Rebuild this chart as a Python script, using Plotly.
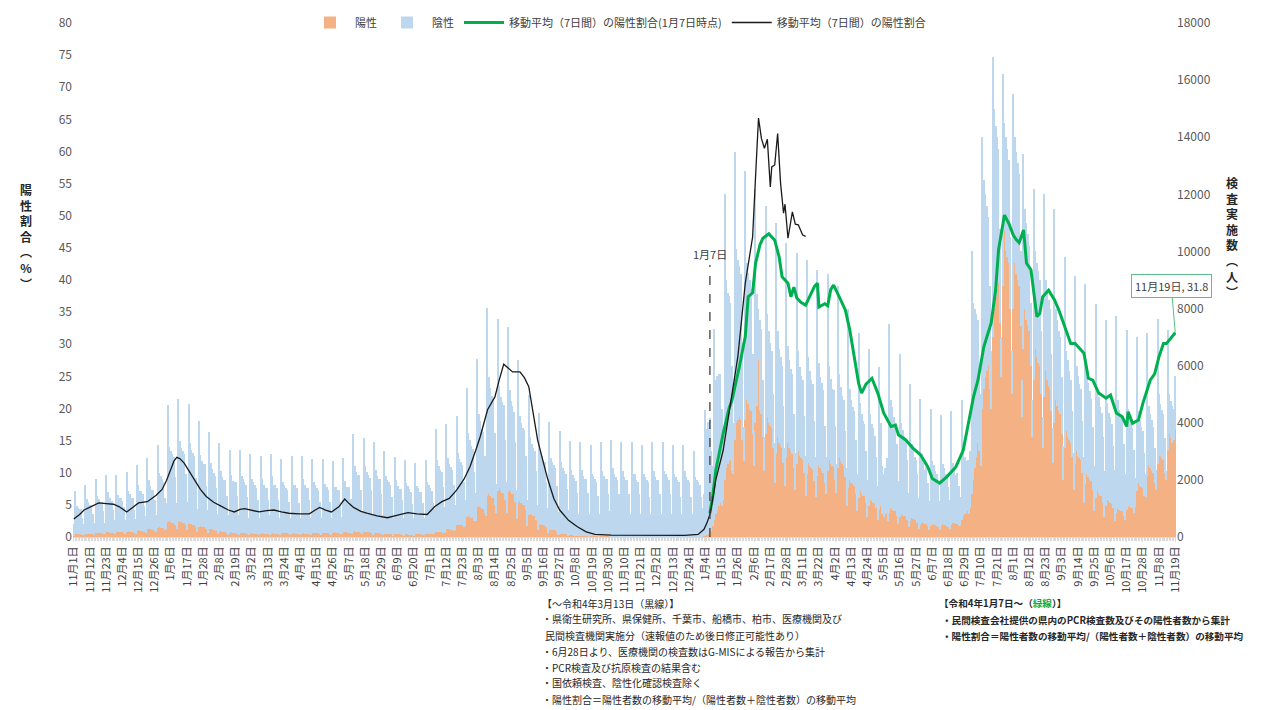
import plotly.graph_objects as go
import pandas as pd

# ---------------- data ----------------
# Daily values, one row per week (Sun..Sat), starting 2020-11-01.
# 陰性 (negative) in hundreds of people
negative_hundreds = [
    4,15,10,9,9,9,6,  4,17,12,11,10,10,7,  4,19,13,12,11,11,8,  4,20,14,12,12,11,8,
    5,20,13,12,12,11,9,  5,21,14,13,12,12,8,  5,23,16,14,14,13,9,  6,25,17,15,14,14,11,
    6,29,19,18,17,16,11,  9,41,26,25,24,23,17,  9,43,28,26,25,24,18,  10,42,28,26,25,24,17,
    8,37,25,23,22,22,15,  8,34,23,21,20,19,15,  7,31,21,19,18,18,13,  7,29,20,18,18,18,13,
    7,29,20,19,18,17,13,  6,28,19,18,17,16,12,  6,27,19,17,16,16,12,  7,28,20,17,17,16,12,
    6,26,18,17,16,15,11,  6,27,17,17,15,16,11,  6,27,19,17,16,16,12,  6,26,18,17,16,15,11,
    6,26,17,17,16,15,11,  6,25,16,16,15,15,11,  6,26,18,16,16,16,12,  8,34,23,21,20,20,15,
    8,33,23,21,20,19,15,  7,32,22,20,19,19,14,  7,29,20,19,18,17,13,  6,27,19,17,16,16,12,
    6,26,18,17,16,15,11,  6,25,17,16,15,15,11,  6,26,18,17,16,15,11,  9,36,25,23,22,21,16,
    9,37,25,23,22,21,16,  9,38,25,23,22,21,16,  9,45,29,27,25,24,17,  10,52,32,30,28,27,20,
    12,66,41,38,36,34,25,  10,60,36,33,32,31,21,  11,58,35,32,31,29,21,  10,50,30,28,27,26,19,
    9,42,27,25,24,23,17,  9,39,26,24,23,22,16,  9,38,25,24,23,22,16,  8,36,25,23,22,21,16,
    9,33,23,21,20,19,15,  8,33,23,21,20,20,15,  8,32,22,21,20,19,14,  8,33,23,21,20,20,15,
    9,34,24,22,21,20,15,  8,33,23,21,20,20,15,  8,33,22,22,20,19,15,  8,32,22,21,20,19,14,
    8,33,23,21,20,20,15,  8,33,23,22,21,20,15,  8,32,22,21,20,19,14,  8,32,23,21,20,19,14,
    8,30,21,20,19,18,14,  10,15,44,37,39,40,28,  21,67,47,47,46,45,34,  23,100,66,60,58,55,37,
    18,101,61,56,53,51,34,  12,87,48,46,45,43,28,  12,82,39,18,32,30,20,  12,80,36,32,29,27,19,
    14,81,37,33,31,29,20,  13,75,34,31,29,28,19,  13,74,35,31,29,28,20,  14,75,37,33,31,30,21,
    14,72,36,32,31,29,20,  13,69,33,30,27,27,19,  10,64,29,26,24,23,16,  13,63,32,29,27,26,19,
    13,58,31,28,26,25,18,  13,55,30,27,26,24,18,  12,50,29,17,15,16,19,  17,66,38,36,33,31,25,
    15,57,32,30,28,27,21,  12,48,26,24,22,21,17,  11,44,24,21,19,20,15,  10,41,22,21,19,18,15,
    10,39,21,20,18,18,14,  10,40,21,19,17,18,14,  10,42,22,20,18,18,14,  20,85,62,56,50,43,28,
    25,95,73,64,58,52,36,  20,98,70,60,53,47,33,  14,74,38,40,38,36,25,  15,75,44,43,41,39,26,
    13,68,35,34,32,30,22,  13,67,34,33,32,30,22,  11,71,32,31,30,28,20,  12,75,32,30,28,27,20,
    12,67,28,27,24,22,16,  13,66,30,28,26,25,18,  16,70,35,33,31,29,22,  16,68,36,34,31,29,23,
    16,65,34,31,30,28,22,  18,69,38,35,34,32,25,  16,63,34,31,30,28,22,  10,54,25,23,21,20,15,
    8,50,21,19,18,16,12,  7,51,20,18,17,16,12,  3,42,14,13,13,11,19,
]
# 陽性 (positive) in tens of people
positive_tens = [
    5,10,10,10,9,9,8,  6,11,12,11,11,11,9,  8,14,15,14,14,14,11,  9,16,17,16,15,15,13,
    9,17,18,17,16,16,14,  10,19,20,19,18,18,15,  12,22,23,22,21,21,17,  14,27,28,27,25,25,21,
    18,33,35,33,32,32,26,  28,52,55,52,50,50,41,  28,52,55,52,50,50,41,  24,46,48,46,43,43,36,
    19,36,38,36,34,34,29,  14,27,28,27,25,25,21,  10,19,20,19,18,18,15,  8,15,16,15,14,14,12,
    7,13,14,13,13,13,11,  7,12,13,12,12,12,10,  7,12,13,12,12,12,10,  7,12,13,12,12,12,10,
    7,13,14,13,13,13,11,  7,12,13,12,12,12,10,  7,12,13,12,12,12,10,  7,13,14,13,13,13,11,
    8,14,15,14,14,14,11,  8,15,16,15,14,14,12,  9,16,17,16,15,15,13,  10,19,20,19,18,18,15,
    9,17,18,17,16,16,14,  8,14,15,14,14,14,11,  6,11,12,11,11,11,9,  5,10,10,10,9,9,8,
    5,9,9,9,8,8,7,  5,10,10,10,9,9,8,  6,11,12,11,11,11,9,  9,17,18,17,16,16,14,
    14,27,28,27,25,25,21,  23,43,45,43,41,41,34,  38,71,75,71,68,68,56,  55,105,110,105,99,99,83,
    75,143,150,143,135,135,113,  85,162,170,162,153,153,128,  83,157,165,157,149,149,124,  63,119,125,119,113,113,94,
    40,76,80,76,72,72,60,  23,43,45,43,41,41,34,  13,24,25,24,23,23,19,  6,11,12,11,11,11,9,
    3,6,6,6,5,5,5,  2,4,4,4,4,4,3,  1,2,2,2,2,2,2,  1,2,2,2,2,2,2,
    1,1,1,1,1,1,1,  1,1,1,1,1,1,1,  1,1,1,1,1,1,1,  1,1,1,1,1,1,1,
    1,1,1,1,1,1,1,  1,1,1,1,1,1,1,  1,1,1,1,1,1,1,  1,1,1,1,1,1,1,
    1,1,1,1,1,1,1,  1,2,5,8,12,18,22,  40,60,80,95,110,120,110,  130,200,240,255,265,270,230,
    220,340,400,410,420,410,340,  265,410,480,465,450,440,360,  250,400,460,620,440,430,350,  230,360,420,400,390,380,310,
    190,290,350,330,320,310,260,  180,280,330,310,300,290,240,  165,255,300,285,275,270,225,  145,220,260,250,240,235,195,
    140,215,250,240,230,225,190,  150,230,270,255,250,245,200,  155,240,280,265,255,250,210,  110,170,200,190,185,180,150,
    90,135,160,150,145,145,120,  70,110,130,125,120,115,100,  60,95,110,80,70,80,85,  55,85,100,95,92,90,75,
    45,70,80,75,75,72,60,  35,55,65,62,60,58,50,  28,43,50,48,46,45,38,  25,38,45,43,41,40,34,
    25,38,45,43,41,40,34,  28,43,50,48,46,45,38,  40,60,75,80,85,90,80,  100,150,200,240,280,330,300,
    250,450,520,560,580,600,520,  450,700,800,840,870,890,750,  560,880,1070,1000,980,960,800,  500,800,960,920,900,880,740,
    420,660,800,760,740,720,600,  350,550,660,630,610,600,500,  310,490,580,550,530,520,440,  260,400,480,460,440,430,360,
    200,310,370,350,340,330,280,  165,255,300,285,275,270,225,  120,185,220,210,200,195,165,  90,135,160,150,145,145,120,
    70,110,130,125,120,115,100,  55,85,100,95,92,90,75,  60,95,110,105,100,100,85,  105,160,190,180,175,170,145,
    140,215,250,240,230,225,190,  165,255,300,285,275,270,225,  200,305,360,345,330,340,375,
]

# 移動平均（7日間）の陽性割合 (black line, %)
black_dates = [
    "2020-11-01","2020-11-05","2020-11-08","2020-11-13","2020-11-18","2020-11-23","2020-11-28",
    "2020-12-02","2020-12-07","2020-12-11","2020-12-15","2020-12-21","2020-12-27","2020-12-31",
    "2021-01-03","2021-01-06","2021-01-08","2021-01-10","2021-01-12","2021-01-15","2021-01-19",
    "2021-01-22","2021-01-26","2021-01-30","2021-02-04","2021-02-09","2021-02-14","2021-02-18",
    "2021-02-22","2021-02-25","2021-03-02","2021-03-07","2021-03-12","2021-03-17","2021-03-22",
    "2021-03-27","2021-04-03","2021-04-10","2021-04-14","2021-04-17","2021-04-21","2021-04-25",
    "2021-04-30","2021-05-04","2021-05-07","2021-05-10","2021-05-15","2021-05-19","2021-05-26",
    "2021-06-02","2021-06-09","2021-06-16","2021-06-22","2021-06-29","2021-07-04","2021-07-09",
    "2021-07-14","2021-07-19","2021-07-24","2021-07-28","2021-08-01","2021-08-04","2021-08-09",
    "2021-08-14","2021-08-17","2021-08-20","2021-08-23","2021-08-26","2021-08-31","2021-09-03",
    "2021-09-06","2021-09-09","2021-09-12","2021-09-16","2021-09-19","2021-09-23","2021-09-27",
    "2021-10-03","2021-10-09","2021-10-15","2021-10-21","2021-11-01","2021-11-16","2021-12-06",
    "2021-12-21","2021-12-30","2022-01-03","2022-01-05","2022-01-07","2022-01-09","2022-01-11",
    "2022-01-16","2022-01-21","2022-01-26","2022-01-31","2022-02-05","2022-02-07","2022-02-09",
    "2022-02-11","2022-02-13","2022-02-15","2022-02-17","2022-02-18","2022-02-20","2022-02-22",
    "2022-02-24","2022-02-26","2022-02-27","2022-03-01","2022-03-04","2022-03-06","2022-03-08",
    "2022-03-11","2022-03-13",
]
black_rate = [
    2.8,3.5,4.2,4.8,5.3,5.2,5.1,
    4.7,3.9,4.6,5.3,5.5,6.5,7.4,
    8.8,10.6,11.8,12.4,12.2,11.5,10.0,
    8.9,7.4,6.3,5.4,4.8,4.2,3.9,
    4.3,4.4,4.1,3.9,4.1,4.2,3.9,
    3.7,3.6,3.6,4.2,4.6,4.2,3.9,
    4.7,5.9,5.2,4.6,4.0,3.7,3.3,
    3.0,3.4,3.8,3.6,3.5,4.7,5.5,
    6.0,7.3,9.0,10.9,13.5,15.6,19.8,
    21.8,24.5,26.9,26.3,25.7,25.7,24.8,
    23.4,19.5,15.1,11.5,8.9,6.0,4.2,
    2.6,1.6,0.8,0.4,0.3,0.25,0.2,
    0.25,0.4,1.2,2.2,3.5,6.0,8.9,
    13.5,20.8,28.1,39.5,46.7,56.1,65.2,
    62.0,60.5,61.9,54.5,57.6,57.9,62.8,
    55.0,50.4,51.8,46.5,50.6,48.7,48.6,
    47.0,46.8,
]

# 移動平均（7日間）の陽性割合(1月7日時点) (green line, %)
green_dates = [
    "2022-01-07","2022-01-09","2022-01-11","2022-01-16","2022-01-20","2022-01-22","2022-01-27",
    "2022-01-31","2022-02-02","2022-02-05","2022-02-07","2022-02-10","2022-02-12","2022-02-16",
    "2022-02-20","2022-02-23","2022-02-25","2022-03-01","2022-03-03","2022-03-05","2022-03-07",
    "2022-03-10","2022-03-13","2022-03-16","2022-03-19","2022-03-21","2022-03-22","2022-03-26",
    "2022-03-28","2022-03-30","2022-04-01","2022-04-05","2022-04-09","2022-04-12","2022-04-16",
    "2022-04-18","2022-04-20","2022-04-23","2022-04-27","2022-05-01","2022-05-05","2022-05-10",
    "2022-05-13","2022-05-15","2022-05-20","2022-05-25","2022-05-30","2022-06-04","2022-06-07",
    "2022-06-12","2022-06-17","2022-06-23","2022-06-28","2022-07-01","2022-07-05","2022-07-08",
    "2022-07-12","2022-07-17","2022-07-20","2022-07-22","2022-07-26","2022-07-29","2022-08-01",
    "2022-08-03","2022-08-05","2022-08-08","2022-08-10","2022-08-13","2022-08-17","2022-08-19",
    "2022-08-21","2022-08-25","2022-08-29","2022-09-01","2022-09-05","2022-09-09","2022-09-12",
    "2022-09-16","2022-09-18","2022-09-21","2022-09-24","2022-09-28","2022-10-03","2022-10-06",
    "2022-10-10","2022-10-14","2022-10-17","2022-10-18","2022-10-21","2022-10-25","2022-10-28",
    "2022-11-02","2022-11-05","2022-11-08","2022-11-11","2022-11-13","2022-11-16","2022-11-19",
]
green_rate = [
    3.7,6.5,10.4,16.1,20.0,21.3,26.5,
    31.2,37.4,38.0,42.6,45.5,46.5,47.2,
    46.2,43.6,40.5,39.5,37.4,38.9,37.2,
    36.5,36.1,37.5,39.0,39.5,35.8,36.3,
    36.0,38.5,39.2,37.3,35.3,32.2,27.0,
    23.9,22.4,23.8,24.7,22.4,19.3,17.2,
    17.4,15.9,15.1,13.8,12.8,10.9,9.1,
    8.4,9.4,10.9,13.5,17.2,21.8,24.4,
    29.6,33.3,38.4,44.7,50.1,48.8,47.0,
    46.3,45.8,47.8,42.6,41.6,34.3,34.8,
    37.4,38.4,36.9,35.3,32.7,30.1,30.1,
    29.1,28.6,24.7,24.4,22.4,21.6,22.1,
    19.3,18.7,17.2,19.5,17.7,18.2,20.8,
    24.4,25.4,28.1,30.1,30.1,31.0,31.8,
]

tick_dates = [
    "2020-11-01","2020-11-12","2020-11-23","2020-12-04","2020-12-15","2020-12-26",
    "2021-01-06","2021-01-17","2021-01-28","2021-02-08","2021-02-19","2021-03-02",
    "2021-03-13","2021-03-24","2021-04-04","2021-04-15","2021-04-26","2021-05-07",
    "2021-05-18","2021-05-29","2021-06-09","2021-06-20","2021-07-01","2021-07-12",
    "2021-07-23","2021-08-03","2021-08-14","2021-08-25","2021-09-05","2021-09-16",
    "2021-09-27","2021-10-08","2021-10-19","2021-10-30","2021-11-10","2021-11-21",
    "2021-12-02","2021-12-13","2021-12-24","2022-01-04","2022-01-15","2022-01-26",
    "2022-02-06","2022-02-17","2022-02-28","2022-03-11","2022-03-22","2022-04-02",
    "2022-04-13","2022-04-24","2022-05-05","2022-05-16","2022-05-27","2022-06-07",
    "2022-06-18","2022-06-29","2022-07-10","2022-07-21","2022-08-01","2022-08-12",
    "2022-08-23","2022-09-03","2022-09-14","2022-09-25","2022-10-06","2022-10-17",
    "2022-10-28","2022-11-08","2022-11-19",
]
tick_labels = [
    "11月1日","11月12日","11月23日","12月4日","12月15日","12月26日",
    "1月6日","1月17日","1月28日","2月8日","2月19日","3月2日",
    "3月13日","3月24日","4月4日","4月15日","4月26日","5月7日",
    "5月18日","5月29日","6月9日","6月20日","7月1日","7月12日",
    "7月23日","8月3日","8月14日","8月25日","9月5日","9月16日",
    "9月27日","10月8日","10月19日","10月30日","11月10日","11月21日",
    "12月2日","12月13日","12月24日","1月4日","1月15日","1月26日",
    "2月6日","2月17日","2月28日","3月11日","3月22日","4月2日",
    "4月13日","4月24日","5月5日","5月16日","5月27日","6月7日",
    "6月18日","6月29日","7月10日","7月21日","8月1日","8月12日",
    "8月23日","9月3日","9月14日","9月25日","10月6日","10月17日",
    "10月28日","11月8日","11月19日",
]

# ---------------- figure ----------------
days = pd.date_range("2020-11-01", "2022-11-19", freq="D")
if len(negative_hundreds) != len(days) or len(positive_tens) != len(days):
    raise SystemExit(f"length mismatch {len(negative_hundreds)} {len(positive_tens)} {len(days)}")
negative = [v * 100 for v in negative_hundreds]
positive = [v * 10 for v in positive_tens]

FONT = "Noto Sans CJK JP"
ORANGE = "#F4B183"
BLUE = "#BDD7EE"
GREEN = "#00B050"
TXT = "#404040"

fig = go.Figure()
fig.add_trace(go.Bar(x=days, y=positive, name="陽性", marker=dict(color=ORANGE, line_width=0), yaxis="y"))
fig.add_trace(go.Bar(x=days, y=negative, name="陰性", marker=dict(color=BLUE, line_width=0), yaxis="y"))
fig.add_trace(go.Scatter(x=green_dates, y=green_rate, name="移動平均（7日間）の陽性割合(1月7日時点)",
                         mode="lines", line=dict(color=GREEN, width=3), yaxis="y2"))
fig.add_trace(go.Scatter(x=black_dates, y=black_rate, name="移動平均（7日間）の陽性割合",
                         mode="lines", line=dict(color="#1a1a1a", width=1.3), yaxis="y2"))

# The page body adds an 8 px offset, so the figure is laid out 8 px smaller
OFF = 8
W, H = 1264 - OFF, 710 - OFF
L, R, T, B = 73 - OFF, 88, 23 - OFF, 173
pw, ph = W - L - R, H - T - B
def px(x):   # reference window x -> paper x
    return (x - OFF - L) / pw
def py(y):   # reference window y -> paper y
    return (H - B - (y - OFF)) / ph

fig.update_layout(
    width=W, height=H,
    margin=dict(l=L, r=R, t=T, b=B, autoexpand=False),
    barmode="stack", bargap=0.2,
    plot_bgcolor="white", paper_bgcolor="white",
    font=dict(family=FONT, size=11, color=TXT),
    showlegend=True,
    legend=dict(orientation="h", x=(618 - OFF) / W, xanchor="center", xref="container",
                y=1.0, yanchor="top", yref="container", borderwidth=0,
                font=dict(size=11, color=TXT), traceorder="normal", itemwidth=40),
    xaxis=dict(type="date", range=["2020-10-31 12:00", "2022-11-19 12:00"], automargin=False,
               tickmode="array", tickvals=tick_dates, ticktext=tick_labels,
               tickangle=-90, tickfont=dict(size=11, color=TXT),
               showgrid=False, showline=True, linecolor="#d9d9d9",
               ticks="outside", ticklen=4, tickcolor="#d9d9d9",
               minor=dict(ticks="outside", dtick=86400000, tick0="2020-11-01", ticklen=3, tickcolor="#d9d9d9")),
    yaxis=dict(range=[0, 18000], dtick=2000, side="right", showgrid=False, zeroline=False,
               tickformat="d", automargin=False,
               tickfont=dict(size=12, color="#595959"), ticks="", showline=False),
    yaxis2=dict(range=[0, 80], dtick=5, side="left", overlaying="y", showgrid=False, zeroline=False,
                automargin=False,
                tickfont=dict(size=12, color="#595959"), ticks="", showline=False),
)

# vertical dashed marker at 1月7日
fig.add_shape(type="line", xref="x", yref="paper", x0="2022-01-07", x1="2022-01-07",
              y0=0, y1=py(265), line=dict(color=TXT, width=1.3, dash="dash"))
fig.add_annotation(x="2022-01-07", xref="x", y=py(254), yref="paper", text="1月7日",
                   showarrow=False, font=dict(size=11, color=TXT))

# data callout
fig.add_annotation(x="2022-11-19", y=31.8, xref="x", yref="y2", text="11月19日, 31.8",
                   showarrow=True, arrowhead=0, arrowwidth=1, arrowcolor="#5CC08A",
                   ax=-4, ay=-47, bordercolor="#5CC08A", borderwidth=1, borderpad=3,
                   bgcolor="white", font=dict(size=11, color=TXT))

# axis titles (vertical stacked characters)
fig.add_annotation(x=px(18), y=py(237), xref="paper", yref="paper",
                   text="<b>陽<br>性<br>割<br>合<br>︵<br>%<br>︶</b>", showarrow=False,
                   font=dict(size=12, color="#262626"))
fig.add_annotation(x=px(1240), y=py(237), xref="paper", yref="paper",
                   text="<b>検<br>査<br>実<br>施<br>数<br>︵<br>人<br>︶</b>", showarrow=False,
                   font=dict(size=12, color="#262626"))

# notes below the axis
left_notes = [
    (540, 603, "【～令和4年3月13日（黒線）】"),
    (540, 619, "・県衛生研究所、県保健所、千葉市、船橋市、柏市、医療機関及び"),
    (543, 635, "民間検査機関実施分（速報値のため後日修正可能性あり）"),
    (540, 651, "・6月28日より、医療機関の検査数はG-MISによる報告から集計"),
    (540, 667, "・PCR検査及び抗原検査の結果含む"),
    (540, 683, "・国依頼検査、陰性化確認検査除く"),
    (540, 699, "・陽性割合＝陽性者数の移動平均/（陽性者数＋陰性者数）の移動平均"),
]
for x, y, t in left_notes:
    fig.add_annotation(x=px(x), y=py(y), xref="paper", yref="paper", text=t, showarrow=False,
                       xanchor="left", yanchor="middle", font=dict(size=10, color="#262626"))
right_notes = [
    (937, 603, "<b>【令和4年1月7日～（<span style='color:#00B050'>緑線</span>）】</b>"),
    (940, 620, "<b>・民間検査会社提供の県内のPCR検査数及びその陽性者数から集計</b>"),
    (940, 636, "<b>・陽性割合＝陽性者数の移動平均/（陽性者数＋陰性者数）の移動平均</b>"),
]
for x, y, t in right_notes:
    fig.add_annotation(x=px(x), y=py(y), xref="paper", yref="paper", text=t, showarrow=False,
                       xanchor="left", yanchor="middle", font=dict(size=9.6, color="#262626"))

fig.write_html("out.html")
